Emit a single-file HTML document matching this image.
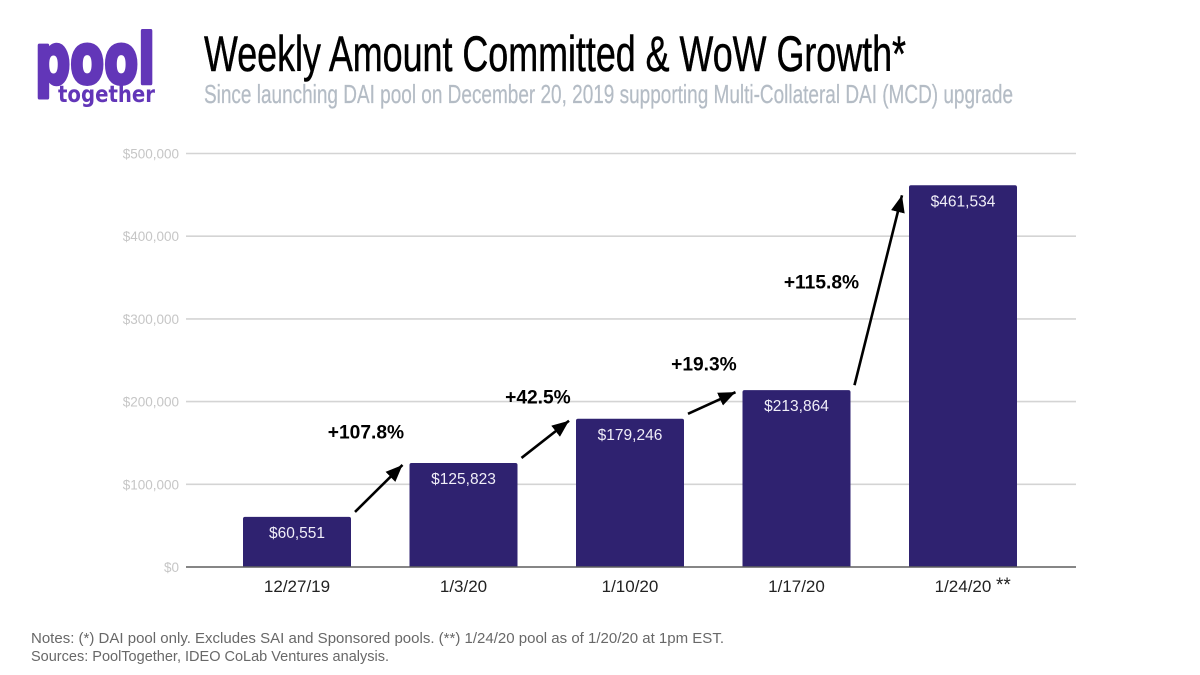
<!DOCTYPE html>
<html lang="en">
<head>
<meta charset="utf-8">
<title>Weekly Amount Committed &amp; WoW Growth</title>
<style>
html,body{margin:0;padding:0;background:#fff;width:1200px;height:675px;overflow:hidden}
svg{display:block;font-family:"Liberation Sans",sans-serif}
</style>
</head>
<body>
<svg id="chart" width="1200" height="675" viewBox="0 0 1200 675" xmlns="http://www.w3.org/2000/svg">
  <rect width="1200" height="675" fill="#fff"/>
  <g>
    <text x="35" y="83" font-family="'DejaVu Sans',sans-serif" font-weight="700" font-size="69" fill="#6236b8" stroke="#6236b8" stroke-width="4" stroke-linejoin="round" textLength="120" lengthAdjust="spacingAndGlyphs">pool</text>
    <text x="58" y="102" font-family="'DejaVu Sans',sans-serif" font-weight="700" font-size="23" fill="#6236b8" textLength="97" lengthAdjust="spacingAndGlyphs">together</text>
  </g>
  <text x="204" y="71" font-family="'Liberation Sans Narrow','Liberation Sans',sans-serif" font-size="50" fill="#000" stroke="#000" stroke-width="0.5" textLength="702" lengthAdjust="spacingAndGlyphs">Weekly Amount Committed &amp; WoW Growth*</text>
  <text x="204" y="103" font-family="'Liberation Sans Narrow','Liberation Sans',sans-serif" font-size="26" fill="#b4bcc5" stroke="#b4bcc5" stroke-width="0.25" textLength="809" lengthAdjust="spacingAndGlyphs">Since launching DAI pool on December 20, 2019 supporting Multi-Collateral DAI (MCD) upgrade</text>
  <g id="plot"></g>
  <text x="31" y="643" font-size="14.5" fill="#686868" textLength="693" lengthAdjust="spacingAndGlyphs">Notes: (*) DAI pool only. Excludes SAI and Sponsored pools. (**) 1/24/20 pool as of 1/20/20 at 1pm EST.</text>
  <text x="31" y="661" font-size="14.5" fill="#686868" textLength="358" lengthAdjust="spacingAndGlyphs">Sources: PoolTogether, IDEO CoLab Ventures analysis.</text>
</svg>
<script>
const categories = ['12/27/19', '1/3/20', '1/10/20', '1/17/20', '1/24/20'];
const amounts = [60551, 125823, 179246, 213864, 461534];
const yTicks = [0, 100000, 200000, 300000, 400000, 500000];
const growthLabels = ['+107.8%', '+42.5%', '+19.3%', '+115.8%'];
const growthLabelCategory = [0.414, 1.447, 2.444, 3.15];
const growthLabelValue = [155400, 197700, 237600, 336750];

const NS = 'http://www.w3.org/2000/svg';
const plot = document.getElementById('plot');
const BAR_W = 108;
const yScale = v => 567 - v * (413.5 / 500000);
const xScale = i => 297 + 166.5 * i;
const money = v => '$' + v.toLocaleString('en-US');

function make(tag, attrs, parent, text) {
  const el = document.createElementNS(NS, tag);
  for (const k in attrs) el.setAttribute(k, attrs[k]);
  if (text !== undefined) el.textContent = text;
  (parent || plot).appendChild(el);
  return el;
}

const defs = make('defs', {});
const marker = make('marker', {id: 'arrowhead', markerUnits: 'userSpaceOnUse', markerWidth: 20, markerHeight: 16, refX: 17, refY: 7, orient: 'auto'}, defs);
make('path', {d: 'M0 0 L17 7 L0 14 Z', fill: '#000'}, marker);

yTicks.forEach(t => {
  const y = yScale(t);
  if (t > 0) {
    const grid = make('line', {x1: 186, x2: 1076, y1: y, y2: y, stroke: '#d4d4d4', 'stroke-width': 1.6});
    
    
  }
  const label = make('text', {x: 179, y: y + 5, 'text-anchor': 'end', 'font-size': 13.5, fill: '#c6c6c6'}, plot, money(t));
  
  
});

amounts.forEach((v, i) => {
  const cx = xScale(i), top = yScale(v), bottom = yScale(0), l = cx - BAR_W / 2, r = cx + BAR_W / 2;
  const bar = make('path', {d: `M${l} ${bottom} V${top + 2} Q${l} ${top} ${l + 2} ${top} H${r - 2} Q${r} ${top} ${r} ${top + 2} V${bottom} Z`, fill: '#2f2270'});
  
  
  const val = make('text', {x: cx, y: top + 21, 'text-anchor': 'middle', 'font-size': 15.5, fill: '#f0eef8'}, plot, money(v));
  
  
  const cat = make('text', {x: cx, y: 592, 'text-anchor': 'middle', 'font-size': 17, fill: '#222'}, plot, categories[i]);
  
  
  if (i === categories.length - 1) {
    const star = make('text', {x: cx + 33, y: 591, 'font-size': 19, fill: '#222'}, plot, '**');
    
    
  }
});

const axis = make('line', {x1: 186, x2: 1076, y1: yScale(0), y2: yScale(0), stroke: '#5f5f5f', 'stroke-width': 1.6});



growthLabels.forEach((g, i) => {
  const top = yScale(amounts[i]), nextTop = yScale(amounts[i + 1]);
  const x1 = xScale(i) + BAR_W / 2 + 4, x2 = xScale(i + 1) - BAR_W / 2 - 7;
  const endOffset = top - nextTop > 100 ? 10 : 2;
  const arrow = make('line', {x1: x1, y1: top - 5, x2: x2, y2: nextTop + endOffset, stroke: '#000', 'stroke-width': 2.6, 'marker-end': 'url(#arrowhead)'});
  
  
  const label = make('text', {x: xScale(growthLabelCategory[i]), y: yScale(growthLabelValue[i]), 'text-anchor': 'middle', 'font-size': 19.2, 'font-weight': 700, fill: '#000'}, plot, g);
  
  
});
</script>
</body>
</html>
